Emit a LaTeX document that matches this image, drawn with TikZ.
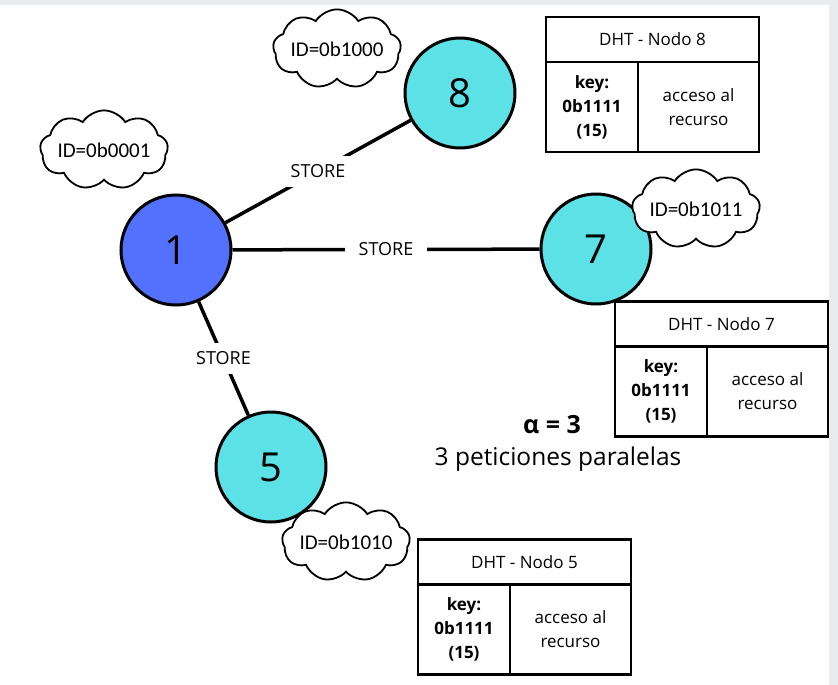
\documentclass[tikz,border=0pt]{standalone}
\usepackage{fontspec}
\setmainfont{Open Sans}
\newfontfamily\nubefont{Carlito}
\usepackage{tikz}
\usetikzlibrary{positioning,shapes.symbols}
\definecolor{azulnodo}{HTML}{5271FF}
\definecolor{cian}{HTML}{5CE1E6}
\definecolor{fondo}{HTML}{E9EBEF}

\begin{document}
\begin{tikzpicture}[x=1pt, y=-1pt,
  nodo/.style={circle, draw, line width=3pt, minimum size=110pt, inner sep=0pt, font=\fontsize{40}{42}\selectfont},
  nube/.style={cloud, cloud puffs=9, cloud puff arc=115, aspect=1.8, draw, line width=1.8pt, fill=white, minimum width=128pt, minimum height=72pt, inner xsep=-7pt, inner ysep=-5pt, font=\nubefont\fontsize{21}{23}\selectfont},
  enlace/.style={line width=3.5pt},
  etiq/.style={fill=white, inner xsep=14pt, inner ysep=9pt, font=\fontsize{18}{20}\selectfont},
  cab/.style={draw, line width=2.2pt, outer sep=0pt, minimum width=213pt, minimum height=45pt, inner sep=0pt, font=\fontsize{17}{18}\selectfont},
  clave/.style={draw, line width=2.2pt, outer sep=0pt, minimum width=92pt, minimum height=90pt, inner sep=0pt, align=center, font=\bfseries\fontsize{17}{24}\selectfont},
  valor/.style={draw, line width=2.2pt, outer sep=0pt, minimum width=121pt, minimum height=90pt, inner sep=0pt, align=center, font=\fontsize{17}{24}\selectfont}
]
\fill[fondo] (0,0) rectangle (838,685);
\fill[white] (0,5) rectangle (829,685);

\node[nodo, fill=azulnodo] (n1) at (176,250) {1};
\node[nodo, fill=cian] (n8) at (460,93) {8};
\node[nodo, fill=cian] (n7) at (596,249) {7};
\node[nodo, fill=cian] (n5) at (271,467) {5};

\draw[enlace] (n1) -- node[etiq] {STORE} (n8);
\draw[enlace] (n1) -- node[etiq] {STORE} (n7);
\draw[enlace] (n1) -- node[etiq] {STORE} (n5);

\node[nube] (id8) at (337,49) {ID=0b1000};
\node[nube] (id1) at (104,150) {ID=0b0001};
\node[nube] (id7) at (696,209) {ID=0b1011};
\node[nube] (id5) at (346,542) {ID=0b1010};

\node[cab] (dht8) at (652.5,39.5) {DHT - Nodo 8};
\node[clave, below right=0pt of dht8.south west] (key8) {key:\\0b1111\\(15)};
\node[valor, right=0pt of key8] (val8) {acceso al\\recurso};

\node[cab] (dht7) at (721.5,324) {DHT - Nodo 7};
\node[clave, below right=0pt of dht7.south west] (key7) {key:\\0b1111\\(15)};
\node[valor, right=0pt of key7] (val7) {acceso al\\recurso};

\node[cab] (dht5) at (524.5,562) {DHT - Nodo 5};
\node[clave, below right=0pt of dht5.south west] (key5) {key:\\0b1111\\(15)};
\node[valor, right=0pt of key5] (val5) {acceso al\\recurso};

\node[font=\bfseries\fontsize{25}{28}\selectfont] (alfa) at (552,425) {α = 3};
\node[font=\fontsize{24.5}{28}\selectfont] (pet) at (558,459) {3 peticiones paralelas};
\end{tikzpicture}
\end{document}
